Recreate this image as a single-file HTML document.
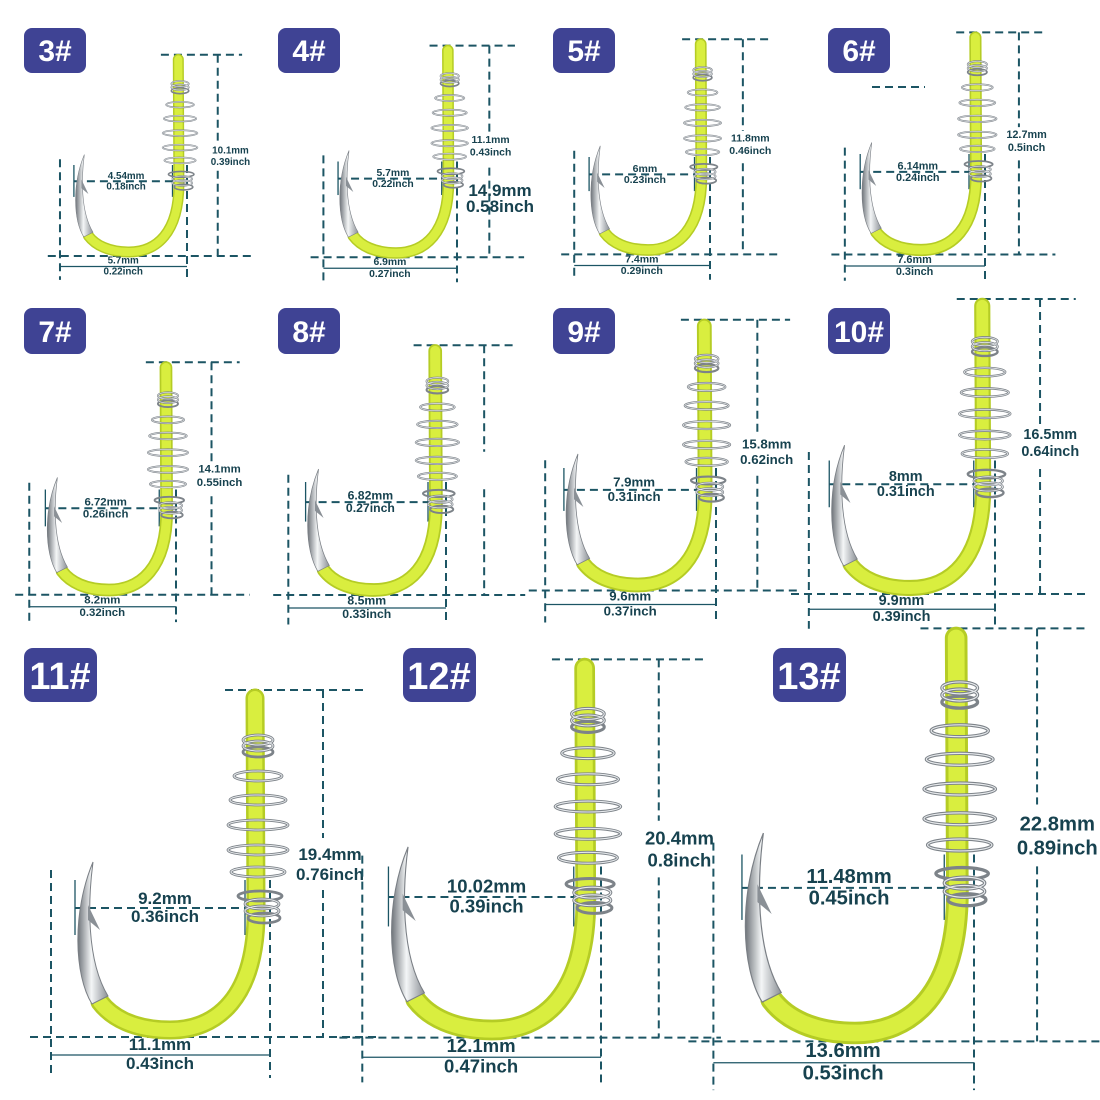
<!DOCTYPE html>
<html><head><meta charset="utf-8"><style>
html,body{margin:0;padding:0;background:#fff;}
svg{display:block;}
.t{font-family:"Liberation Sans",sans-serif;font-weight:bold;fill:#17424f;font-size:17px;text-anchor:middle;}
.b{font-family:"Liberation Sans",sans-serif;font-weight:bold;fill:#fff;text-anchor:middle;}
.d{stroke:#1c5564;stroke-width:2;stroke-dasharray:8 5;fill:none;}
.s{stroke:#1c5564;stroke-width:1.3;fill:none;}
</style></head><body>
<svg width="1100" height="1100" viewBox="0 0 1100 1100" xmlns="http://www.w3.org/2000/svg">
<defs>
<linearGradient id="sil" x1="0" y1="0" x2="1" y2="0">
<stop offset="0" stop-color="#6f747a"/><stop offset="0.45" stop-color="#f4f6f7"/><stop offset="1" stop-color="#8b9096"/>
</linearGradient>
<g id="hk">
<path d="M255,698 L256,905 C258,1000 215,1030 170,1030 C135,1030 112,1018 100,1002" stroke="#b5cc25" stroke-width="19" fill="none" stroke-linecap="round"/>
<path d="M255,698 L256,905 C258,1000 215,1030 170,1030 C135,1030 112,1018 100,1002" stroke="#d9ee3f" stroke-width="14" fill="none" stroke-linecap="round"/>
<path d="M92,1004 C74,975 72,912 93,862 C88,900 86,960 108,996 Z" fill="url(#sil)" stroke="#7a7f85" stroke-width="1"/>
<path d="M88,905 L100,930 L88,920 Z" fill="#8a9096"/>
<g fill="none" stroke="#7d8389" stroke-width="2.8">
<ellipse cx="258" cy="740" rx="15" ry="5"/><ellipse cx="258" cy="746" rx="15" ry="5"/><ellipse cx="258" cy="752" rx="15" ry="5"/>
<ellipse cx="258" cy="776" rx="24" ry="5"/><ellipse cx="258" cy="800" rx="28" ry="5"/><ellipse cx="258" cy="825" rx="30" ry="5"/>
<ellipse cx="258" cy="850" rx="30" ry="5"/><ellipse cx="258" cy="872" rx="27" ry="5"/><ellipse cx="260" cy="896" rx="22" ry="5"/>
<ellipse cx="262" cy="904" rx="17" ry="5"/><ellipse cx="262" cy="911" rx="17" ry="5"/><ellipse cx="264" cy="918" rx="16" ry="5"/>
</g>
<g fill="none" stroke="#e6e9ec" stroke-width="1">
<ellipse cx="258" cy="740" rx="15" ry="5"/><ellipse cx="258" cy="746" rx="15" ry="5"/><ellipse cx="258" cy="776" rx="24" ry="5"/><ellipse cx="258" cy="800" rx="28" ry="5"/><ellipse cx="258" cy="825" rx="30" ry="5"/><ellipse cx="258" cy="850" rx="30" ry="5"/><ellipse cx="258" cy="872" rx="27" ry="5"/><ellipse cx="262" cy="904" rx="17" ry="5"/><ellipse cx="262" cy="911" rx="17" ry="5"/>
</g>
</g>
<g id="dm">
<line class="d" vector-effect="non-scaling-stroke" x1="225" y1="690" x2="365" y2="690"/>
<line class="d" vector-effect="non-scaling-stroke" x1="323" y1="690" x2="323" y2="838"/>
<line class="d" vector-effect="non-scaling-stroke" x1="323" y1="890" x2="323" y2="1037"/>
<line class="d" vector-effect="non-scaling-stroke" x1="30" y1="1037" x2="380" y2="1037"/>
<line class="d" vector-effect="non-scaling-stroke" x1="51" y1="870" x2="51" y2="1078"/>
<line class="d" vector-effect="non-scaling-stroke" x1="270" y1="880" x2="270" y2="1078"/>
<line class="s" vector-effect="non-scaling-stroke" x1="51" y1="1055" x2="270" y2="1055"/>
<line class="d" vector-effect="non-scaling-stroke" x1="75" y1="908" x2="245" y2="908"/>
<line class="s" vector-effect="non-scaling-stroke" x1="245" y1="880" x2="245" y2="935"/>
<line class="s" vector-effect="non-scaling-stroke" x1="75" y1="880" x2="75" y2="935"/>
</g>
</defs>

<g fill="#3f4394">
<rect x="24" y="28" width="62" height="45" rx="8"/><rect x="278" y="28" width="62" height="45" rx="8"/>
<rect x="553" y="28" width="62" height="45" rx="8"/><rect x="828" y="28" width="62" height="45" rx="8"/>
<rect x="24" y="308" width="62" height="46" rx="8"/><rect x="278" y="308" width="62" height="46" rx="8"/>
<rect x="553" y="308" width="62" height="46" rx="8"/><rect x="828" y="308" width="62" height="46" rx="8"/>
<rect x="24" y="648" width="73" height="54" rx="9"/><rect x="403" y="648" width="73" height="54" rx="9"/>
<rect x="773" y="648" width="73" height="54" rx="9"/>
</g>
<g class="b" font-size="30">
<text x="55" y="61">3#</text><text x="309" y="61">4#</text><text x="584" y="61">5#</text><text x="859" y="61">6#</text>
<text x="55" y="342">7#</text><text x="309" y="342">8#</text><text x="584" y="342">9#</text><text x="859" y="342">10#</text>
</g>
<g class="b" font-size="38">
<text x="60" y="689">11#</text><text x="439" y="689">12#</text><text x="809" y="689">13#</text>
</g>

<g transform="translate(30.4,-345.4) scale(0.58)"><use href="#dm"/><use href="#hk"/>
<text class="t" x="345" y="860">10.1mm</text><text class="t" x="345" y="880">0.39inch</text>
<text class="t" x="165" y="904">4.54mm</text><text class="t" x="165" y="922">0.18inch</text>
<text class="t" x="160" y="1050">5.7mm</text><text class="t" x="160" y="1069">0.22inch</text></g>
<g transform="translate(292.3,-375.3) scale(0.61)"><use href="#dm"/><use href="#hk"/>
<text class="t" x="325" y="850">11.1mm</text><text class="t" x="325" y="870">0.43inch</text>
<text class="t" x="165" y="904">5.7mm</text><text class="t" x="165" y="922">0.22inch</text>
<text class="t" x="160" y="1050">6.9mm</text><text class="t" x="160" y="1069">0.27inch</text></g>
<text class="t" x="500" y="196" font-size="13">14.9mm</text><text class="t" x="500" y="212" font-size="13">0.58inch</text>
<g transform="translate(542.6,-388.6) scale(0.62)"><use href="#dm"/><use href="#hk"/>
<text class="t" x="335" y="855">11.8mm</text><text class="t" x="335" y="875">0.46inch</text>
<text class="t" x="165" y="904">6mm</text><text class="t" x="165" y="922">0.23inch</text>
<text class="t" x="160" y="1050">7.4mm</text><text class="t" x="160" y="1069">0.29inch</text></g>
<g transform="translate(812.2,-409.2) scale(0.64)"><use href="#dm"/><use href="#hk"/>
<text class="t" x="335" y="855">12.7mm</text><text class="t" x="335" y="875">0.5inch</text>
<text class="t" x="165" y="904">6.14mm</text><text class="t" x="165" y="922">0.24inch</text>
<text class="t" x="160" y="1050">7.6mm</text><text class="t" x="160" y="1069">0.3inch</text></g>
<line class="d" x1="872" y1="87" x2="925" y2="87"/>
<g transform="translate(-4.9,-100.1) scale(0.67)"><use href="#dm"/><use href="#hk"/>
<text class="t" x="335" y="855">14.1mm</text><text class="t" x="335" y="875">0.55inch</text>
<text class="t" x="165" y="904">6.72mm</text><text class="t" x="165" y="922">0.26inch</text>
<text class="t" x="160" y="1050">8.2mm</text><text class="t" x="160" y="1069">0.32inch</text></g>
<g transform="translate(251.6,-151.6) scale(0.72)"><use href="#dm"/><use href="#hk"/>
<text class="t" x="165" y="904">6.82mm</text><text class="t" x="165" y="922">0.27inch</text>
<text class="t" x="160" y="1050">8.5mm</text><text class="t" x="160" y="1069">0.33inch</text></g>
<g transform="translate(505.4,-218.4) scale(0.78)"><use href="#dm"/><use href="#hk"/>
<text class="t" x="335" y="855">15.8mm</text><text class="t" x="335" y="875">0.62inch</text>
<text class="t" x="165" y="904">7.9mm</text><text class="t" x="165" y="922">0.31inch</text>
<text class="t" x="160" y="1050">9.6mm</text><text class="t" x="160" y="1069">0.37inch</text></g>
<g transform="translate(765.5,-287.5) scale(0.85)"><use href="#dm"/><use href="#hk"/>
<text class="t" x="335" y="855">16.5mm</text><text class="t" x="335" y="875">0.64inch</text>
<text class="t" x="165" y="904">8mm</text><text class="t" x="165" y="922">0.31inch</text>
<text class="t" x="160" y="1050">9.9mm</text><text class="t" x="160" y="1069">0.39inch</text></g>
<g><use href="#dm"/><use href="#hk"/>
<text class="t" x="330" y="860">19.4mm</text><text class="t" x="330" y="880">0.76inch</text>
<text class="t" x="165" y="904">9.2mm</text><text class="t" x="165" y="922">0.36inch</text>
<text class="t" x="160" y="1050">11.1mm</text><text class="t" x="160" y="1069">0.43inch</text></g>
<g transform="translate(306.7,-92.7) scale(1.09)"><use href="#dm"/><use href="#hk"/>
<text class="t" x="342" y="860">20.4mm</text><text class="t" x="342" y="880">0.8inch</text>
<text class="t" x="165" y="904">10.02mm</text><text class="t" x="165" y="922">0.39inch</text>
<text class="t" x="160" y="1050">12.1mm</text><text class="t" x="160" y="1069">0.47inch</text></g>
<g transform="translate(652.7,-192.7) scale(1.19)"><use href="#dm"/><use href="#hk"/>
<text class="t" x="340" y="860">22.8mm</text><text class="t" x="340" y="880">0.89inch</text>
<text class="t" x="165" y="904">11.48mm</text><text class="t" x="165" y="922">0.45inch</text>
<text class="t" x="160" y="1050">13.6mm</text><text class="t" x="160" y="1069">0.53inch</text></g>
</svg>
</body></html>
